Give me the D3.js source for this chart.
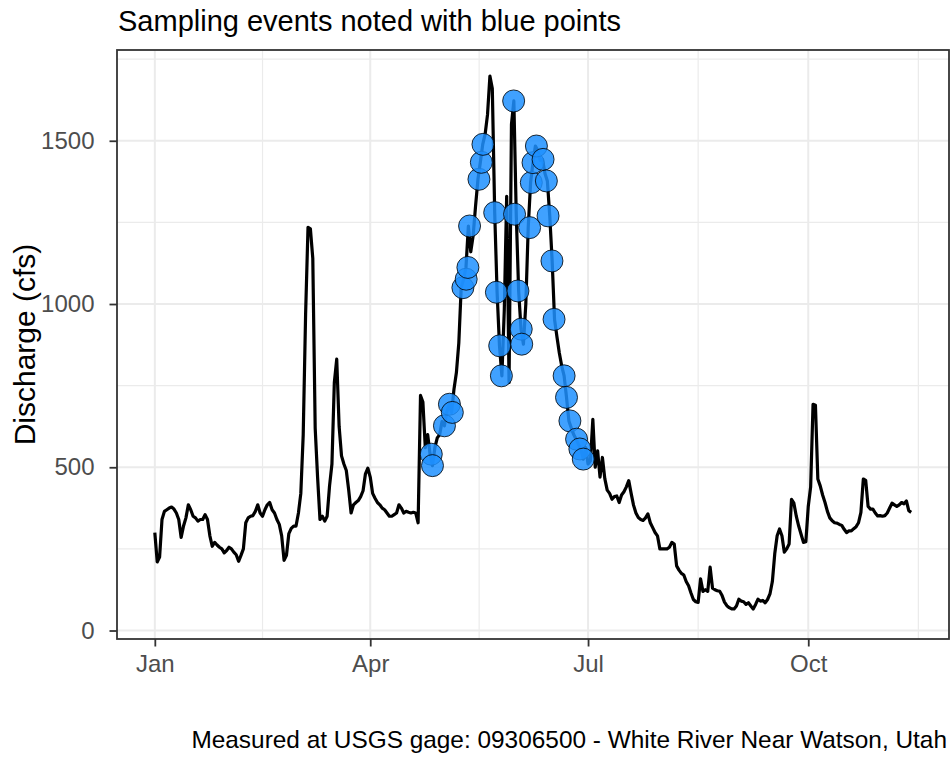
<!DOCTYPE html>
<html>
<head>
<meta charset="utf-8">
<script src="https://cdn.jsdelivr.net/npm/d3@7"></script>
<style>
  body { margin: 0; background: #fff; }
  svg text { font-family: "Liberation Sans", Arial, sans-serif; }
</style>
</head>
<body>
<div id="chart-area"></div>
<script>
// daily discharge (cfs), starting on startDate, one value per day
var startDate = "2019-01-01";
var dailyFlow = [
  300, 210, 225, 340, 365, 370, 375, 378, 372, 360,
  340, 285, 320, 345, 385, 370, 350, 345, 335, 340,
  340, 355, 340, 290, 258, 270, 262, 255, 250, 238,
  245, 255, 250, 240, 232, 212, 230, 250, 330, 345,
  350, 352, 365, 385, 360, 350, 370, 385, 392, 370,
  360, 340, 325, 290, 215, 230, 297, 313, 320, 320,
  360, 420, 600, 970, 1235, 1230, 1140, 620, 470, 340,
  350, 335, 350, 443, 510, 760, 831, 625, 535, 510,
  490, 430, 360, 385, 392, 398, 410, 428, 480, 497,
  470, 420, 405, 392, 385, 375, 370, 360, 350, 350,
  355, 360, 385, 375, 360, 365, 362, 360, 362, 360,
  330, 720, 700, 560, 600, 540, 505, 560, 590, 600,
  640, 627, 670, 693, 668, 740, 790, 880, 1050, 1076,
  1112, 1239, 1160, 1210, 1300, 1382, 1434, 1489, 1520, 1580,
  1698, 1660, 1280, 1036, 872, 780, 980, 1330, 760, 1550,
  1622, 1275, 1040, 923, 877, 1000, 1234, 1372, 1433, 1484,
  1470, 1440, 1443, 1400, 1377, 1270, 1132, 953, 900, 850,
  810, 780, 714, 642, 620, 600, 586, 570, 556, 525,
  560, 510, 520, 647, 500, 550, 470, 530, 465, 430,
  420, 402, 410, 412, 392, 415, 425, 440, 459, 420,
  384, 360, 346, 340, 337, 345, 357, 330, 315, 300,
  290, 250, 250, 250, 250, 255, 270, 265, 198, 185,
  175, 170, 150, 137, 115, 95, 88, 86, 158, 120,
  125, 120, 194, 130, 125, 122, 120, 107, 87, 76,
  70, 66, 66, 75, 96, 90, 88, 80, 85, 75,
  66, 80, 96, 90, 92, 85, 95, 112, 150, 235,
  290, 311, 290, 240, 250, 265, 402, 390, 350, 320,
  295, 270, 272, 380, 440, 693, 690, 464, 443, 415,
  392, 365, 345, 336, 330, 329, 325, 322, 310, 300,
  305, 305, 312, 318, 330, 362, 464, 460, 380, 372,
  372, 360, 351, 352, 350, 352, 360, 375, 390, 385,
  380, 385, 392, 388, 397, 367, 362
];

// sampling events
var sampleTimes = [
  "2019-04-26T12:00", "2019-04-27T00:00", "2019-05-02T00:00", "2019-05-04T02:00",
  "2019-05-05T07:00", "2019-05-09T17:00", "2019-05-11T02:00", "2019-05-11T19:00",
  "2019-05-12T12:00", "2019-05-16T10:00", "2019-05-17T10:00", "2019-05-18T02:00",
  "2019-05-23T00:00", "2019-05-23T17:00", "2019-05-25T02:00", "2019-05-25T19:00",
  "2019-05-30T22:00", "2019-05-31T07:00", "2019-06-01T17:00", "2019-06-03T02:00",
  "2019-06-03T07:00", "2019-06-06T14:00", "2019-06-07T07:00", "2019-06-08T00:00",
  "2019-06-09T10:00", "2019-06-12T05:00", "2019-06-13T14:00", "2019-06-14T07:00",
  "2019-06-15T22:00", "2019-06-16T19:00", "2019-06-21T00:00", "2019-06-22T00:00",
  "2019-06-23T10:00", "2019-06-26T05:00", "2019-06-27T14:00", "2019-06-29T00:00"
];
var sampleFlow = [
  540, 505, 627, 693, 668, 1050, 1076, 1112, 1239, 1382, 1434, 1489,
  1280, 1036, 872, 780, 1622, 1275, 1040, 923, 877, 1234, 1372, 1433,
  1484, 1443, 1377, 1270, 1132, 953, 780, 714, 642, 586, 556, 525
];

var xTicks = ["2019-01-01", "2019-04-01", "2019-07-01", "2019-10-01"];
var xMinor = ["2019-02-15T00:00", "2019-05-16T12:00", "2019-08-16T00:00", "2019-11-16T00:00"];
var yTicks = [0, 500, 1000, 1500];
var yMinor = [250, 750, 1250, 1750];
var yLimits = [-26, 1778];

var parseTime = d3.isoParse;
var day0 = parseTime(startDate);
var flowData = dailyFlow.map(function (v, i) {
  return { date: d3.timeDay.offset(day0, i), q: v };
});
var samples = sampleTimes.map(function (t, i) {
  return { date: parseTime(t), q: sampleFlow[i] };
});

var W = 951, H = 757;
var panel = { left: 117, right: 949, top: 50, bottom: 639 };

var svg = d3
  .select("#chart-area")
  .append("svg")
  .attr("width", W)
  .attr("height", H);

// ggplot style 5% expansion on the date axis
var ext = d3.extent(flowData, function (d) { return d.date; });
var pad = (ext[1] - ext[0]) * 0.05;
var x = d3
  .scaleTime()
  .domain([new Date(+ext[0] - pad), new Date(+ext[1] + pad)])
  .range([panel.left, panel.right]);
var y = d3.scaleLinear().domain(yLimits).range([panel.bottom, panel.top]);

// grid
var grid = svg.append("g");
grid.selectAll(".ymin").data(yMinor).enter().append("line")
  .attr("x1", panel.left).attr("x2", panel.right)
  .attr("y1", function (d) { return y(d); }).attr("y2", function (d) { return y(d); })
  .attr("stroke", "#ebebeb").attr("stroke-width", 1.2);
grid.selectAll(".xmin").data(xMinor).enter().append("line")
  .attr("y1", panel.top).attr("y2", panel.bottom)
  .attr("x1", function (d) { return x(parseTime(d)); }).attr("x2", function (d) { return x(parseTime(d)); })
  .attr("stroke", "#ebebeb").attr("stroke-width", 1.2);
grid.selectAll(".ymaj").data(yTicks).enter().append("line")
  .attr("x1", panel.left).attr("x2", panel.right)
  .attr("y1", function (d) { return y(d); }).attr("y2", function (d) { return y(d); })
  .attr("stroke", "#ebebeb").attr("stroke-width", 2);
grid.selectAll(".xmaj").data(xTicks).enter().append("line")
  .attr("y1", panel.top).attr("y2", panel.bottom)
  .attr("x1", function (d) { return x(parseTime(d)); }).attr("x2", function (d) { return x(parseTime(d)); })
  .attr("stroke", "#ebebeb").attr("stroke-width", 2);

// discharge line
svg.append("path")
  .datum(flowData)
  .attr("fill", "none")
  .attr("stroke", "#000")
  .attr("stroke-width", 3.2)
  .attr("stroke-linejoin", "round")
  .attr("d", d3.line()
    .x(function (d) { return x(d.date); })
    .y(function (d) { return y(d.q); }));

// sampling points
svg.append("g").selectAll("circle")
  .data(samples)
  .enter()
  .append("circle")
  .attr("cx", function (d) { return x(d.date); })
  .attr("cy", function (d) { return y(d.q); })
  .attr("r", 11)
  .attr("fill", "#1E90FF")
  .attr("fill-opacity", 0.85)
  .attr("stroke", "#000")
  .attr("stroke-opacity", 0.8)
  .attr("stroke-width", 1);

// panel border
svg.append("rect")
  .attr("x", panel.left).attr("y", panel.top)
  .attr("width", panel.right - panel.left)
  .attr("height", panel.bottom - panel.top)
  .attr("fill", "none")
  .attr("stroke", "#333")
  .attr("stroke-width", 1.8);

// axes
var xAxis = d3.axisBottom(x)
  .tickValues(xTicks.map(parseTime))
  .tickFormat(d3.timeFormat("%b"))
  .tickSize(7.5)
  .tickPadding(6);
var gx = svg.append("g")
  .attr("transform", "translate(0," + panel.bottom + ")")
  .call(xAxis);
gx.select(".domain").remove();
gx.selectAll("line").attr("stroke", "#333").attr("stroke-width", 1.8);
gx.selectAll("text")
  .attr("fill", "#4d4d4d")
  .attr("font-size", "24px")
  .attr("dy", null)
  .attr("y", 33);

var yAxis = d3.axisLeft(y)
  .tickValues(yTicks)
  .tickFormat(d3.format("d"))
  .tickSize(7.5)
  .tickPadding(15);
var gy = svg.append("g")
  .attr("transform", "translate(" + panel.left + ",0)")
  .call(yAxis);
gy.select(".domain").remove();
gy.selectAll("line").attr("stroke", "#333").attr("stroke-width", 1.8);
gy.selectAll("text")
  .attr("fill", "#4d4d4d")
  .attr("font-size", "24px");

// labels
svg.append("text")
  .attr("x", 118)
  .attr("y", 31)
  .attr("font-size", "29px")
  .attr("fill", "#000")
  .text("Sampling events noted with blue points");

svg.append("text")
  .attr("transform", "translate(35," + (panel.top + panel.bottom) / 2 + ") rotate(-90)")
  .attr("text-anchor", "middle")
  .attr("font-size", "30px")
  .attr("fill", "#000")
  .text("Discharge (cfs)");

svg.append("text")
  .attr("x", 947)
  .attr("y", 748)
  .attr("text-anchor", "end")
  .attr("font-size", "24.4px")
  .attr("fill", "#000")
  .text("Measured at USGS gage: 09306500 - White River Near Watson, Utah");
</script>
</body>
</html>
